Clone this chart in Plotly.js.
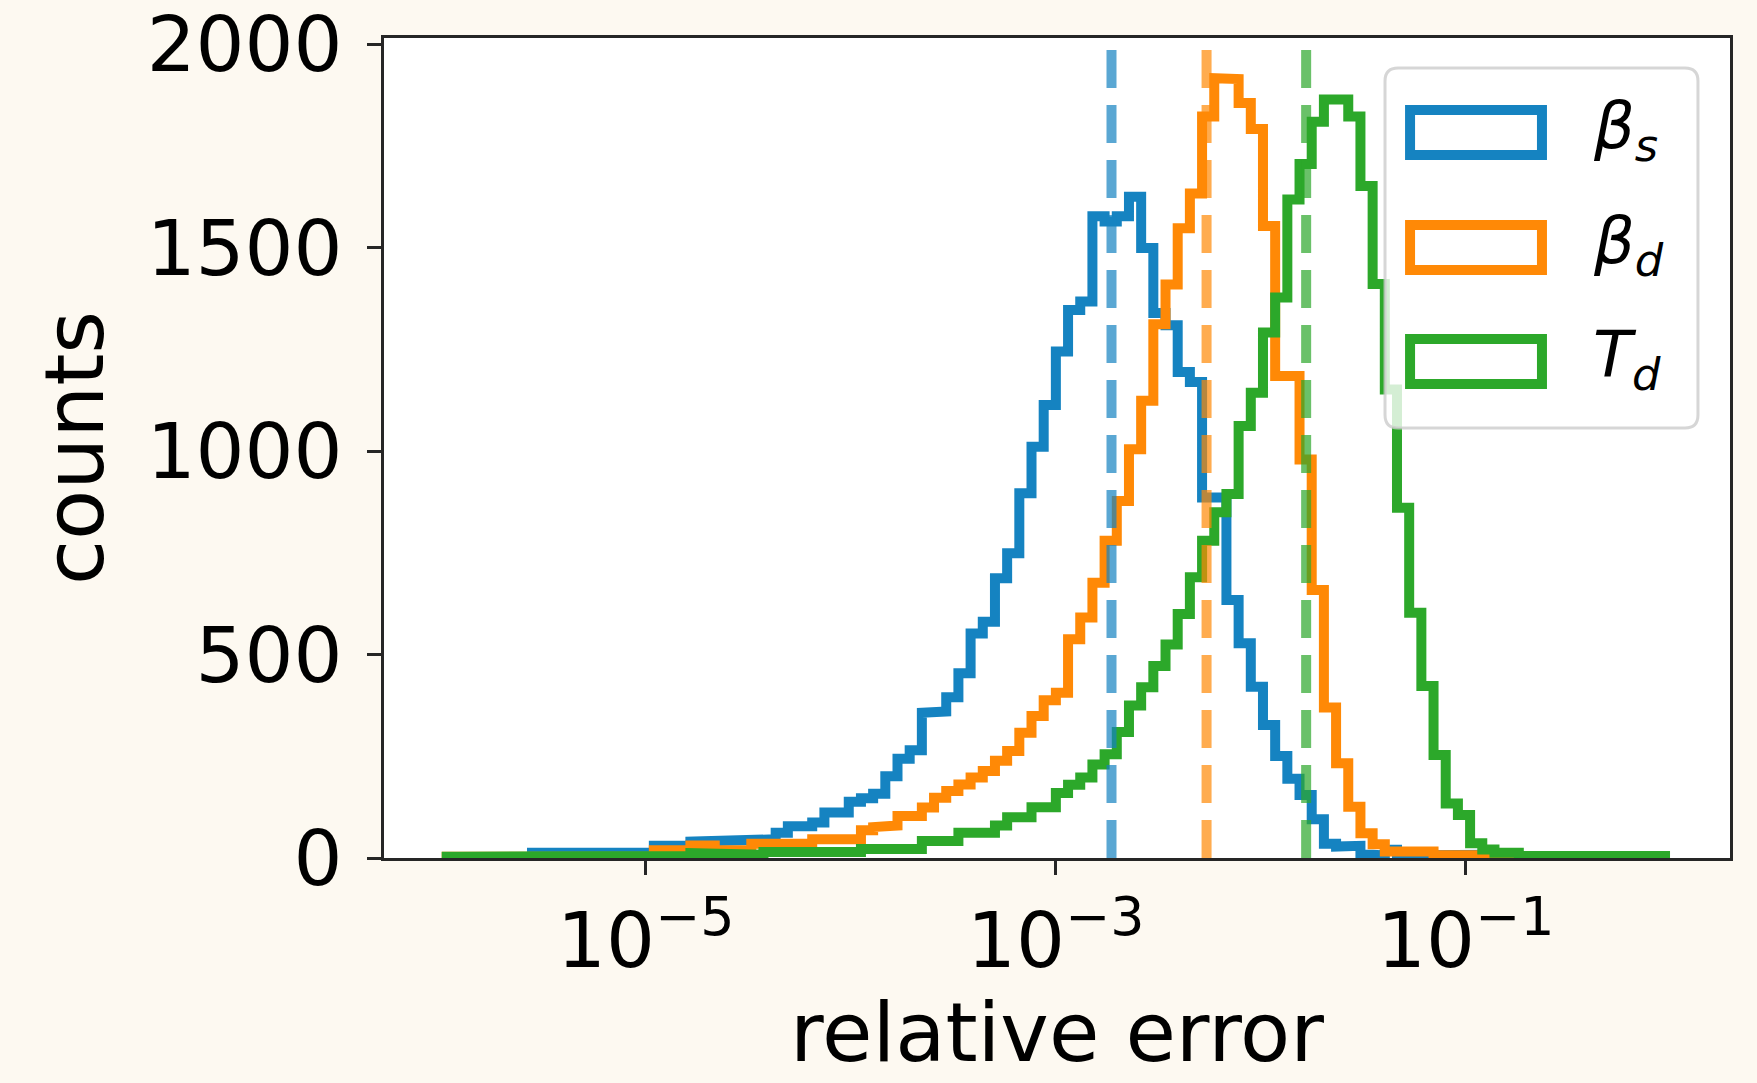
<!DOCTYPE html>
<html>
<head>
<meta charset="utf-8">
<script src="https://cdn.plot.ly/plotly-3.0.1.min.js"></script>
<style>
  html, body { margin: 0; padding: 0; background: #fdf9f1; }
  #chart { width: 1757px; height: 1083px; }
</style>
</head>
<body>
<div id="chart"></div>
<script>
// ---- data (histogram counts per log-spaced bin) ----
const seriesNames = ["β_s", "β_d", "T_d"];
const binLogMin = -5.971;   // log10 of first bin edge
const binLogMax = -0.028;   // log10 of last bin edge
const nBins = 100;

const countsBetaS = [
  0,0,0,0,0,0,0,
  13,13,13,13,13,13,13,13,13,13,
  30,30,30,
  40,40,40,40,
  46,46,46,
  62,
  78,78,
  87,
  112,112,
  138,147,158,201,244,265,357,360,395,454,552,581,688,749,897,1011,
  1114,1245,1347,1368,1578,1565,1578,1626,1500,1340,1310,1195,1170,886,886,
  634,528,421,327,251,195,155,95,35,28,30,10,6,20,6,
  3,3,3,3,3,
  8,
  0,0,0,0,0,0,0,0,0,0,0,0,0,0,0
];
const countsBetaD = [
  3,3,3,3,3,3,3,3,3,3,3,3,3,3,3,3,3,
  19,19,19,
  31,31,
  19,19,19,
  35,35,35,35,35,
  46,46,46,46,
  68,76,80,103,103,124,148,165,181,198,214,239,263,308,349,388,
  406,538,591,677,780,878,1005,1124,1312,1410,1548,1634,
  1823,1917,1915,1856,1792,1554,1185,1185,980,
  659,370,233,126,61,34,
  16,16,16,16,
  7,7,7,7,7,
  0,0,0,0,0,0,0,0,0,0,0,0,0,0
];
const countsTd = [
  3,3,3,3,3,3,3,3,3,3,3,3,3,3,3,3,
  5,5,5,5,
  12,12,
  8,8,8,8,
  15,15,15,15,15,15,15,15,
  22,22,22,22,22,
  42,42,42,
  62,62,62,
  80,100,100,125,125,160,180,198,230,255,310,375,420,472,525,600,690,780,850,895,
  1062,1144,1292,1378,1619,1706,
  1810,1865,1865,1823,1652,1411,
  1152,861,603,423,253,134,106,36,21,13,13,
  5,5,5,5,5,5,5,5,5,5,5,5
];
const medians = [1.87e-3, 5.44e-3, 1.665e-2];   // dashed vertical lines
const xTickVals = [1e-5, 1e-3, 1e-1];
const xTickText = ["10<sup>−5</sup>", "10<sup>−3</sup>", "10<sup>−1</sup>"];
const yTickVals = [0, 500, 1000, 1500, 2000];
const yTickText = ["0", "500", "1000", "1500", "2000"];
const legendLabels = ["<i>β</i><sub><i>s</i></sub>", "<i>β</i><sub><i>d</i></sub>", "<i>T</i><sub><i>d</i></sub>"];

// ---- style ----
const colors = ["#1583c1", "#ff8906", "#2ca82a"];
const FONT = "DejaVu Sans, Liberation Sans, sans-serif";
const axisColor = "#262626";

// bin edges (log-spaced, as in the original histogram)
const edges = [];
for (let i = 0; i <= nBins; i++) {
  edges.push(Math.pow(10, binLogMin + (binLogMax - binLogMin) * i / nBins));
}

function stepOutline(counts) {
  const xs = [edges[0]], ys = [0];
  for (let i = 0; i < counts.length; i++) {
    xs.push(edges[i], edges[i + 1]);
    ys.push(counts[i], counts[i]);
  }
  xs.push(edges[counts.length]);
  ys.push(0);
  return { xs, ys };
}

const allCounts = [countsBetaS, countsBetaD, countsTd];
const traces = allCounts.map((c, k) => {
  const p = stepOutline(c);
  return {
    type: "scatter", mode: "lines", x: p.xs, y: p.ys,
    name: seriesNames[k],
    line: { color: colors[k], width: 10, shape: "linear" },
    showlegend: false, hoverinfo: "skip"
  };
});

// ---- shapes: median lines + hand-built legend (hollow patches) ----
const shapes = [];
medians.forEach((m, k) => {
  shapes.push({
    type: "line", xref: "x", yref: "paper", x0: m, x1: m, y0: 0, y1: 1,
    line: { color: colors[k], width: 10, dash: "38px,17px" }, opacity: 0.7, layer: "above"
  });
});

// legend frame (rounded)
const lx0 = 0.7437, lx1 = 0.9762, ly0 = 0.5244, ly1 = 0.9634;
const rx = 13 / 1346, ry = 13 / 820;
const framePath =
  `M ${lx0 + rx},${ly0} L ${lx1 - rx},${ly0} Q ${lx1},${ly0} ${lx1},${ly0 + ry} ` +
  `L ${lx1},${ly1 - ry} Q ${lx1},${ly1} ${lx1 - rx},${ly1} ` +
  `L ${lx0 + rx},${ly1} Q ${lx0},${ly1} ${lx0},${ly1 - ry} ` +
  `L ${lx0},${ly0 + ry} Q ${lx0},${ly0} ${lx0 + rx},${ly0} Z`;
shapes.push({
  type: "path", xref: "paper", yref: "paper", path: framePath,
  fillcolor: "rgba(255,255,255,0.8)", line: { color: "rgba(204,204,204,0.8)", width: 3 }, layer: "above"
});
const patchY = [[0.8573, 0.9122], [0.7171, 0.7720], [0.5780, 0.6329]];
patchY.forEach((py, k) => {
  shapes.push({
    type: "rect", xref: "paper", yref: "paper", x0: 0.7623, x1: 0.8603, y0: py[0], y1: py[1],
    line: { color: colors[k], width: 10 }, fillcolor: "rgba(0,0,0,0)", layer: "above"
  });
});

const annotations = legendLabels.map((t, k) => ({
  xref: "paper", yref: "paper", x: 0.8965, y: (patchY[k][0] + patchY[k][1]) / 2,
  xanchor: "left", yanchor: "middle", text: t, showarrow: false, yshift: 2,
  font: { family: FONT, size: 64, color: "black" }
}));

const layout = {
  width: 1757, height: 1083,
  margin: { l: 384, r: 27, t: 38, b: 225, pad: 0 },
  paper_bgcolor: "#fdf9f1", plot_bgcolor: "#ffffff",
  font: { family: FONT, color: "black" },
  showlegend: false,
  xaxis: {
    type: "log", range: [-6.277, 0.289], autorange: false,
    showline: true, mirror: true, linecolor: axisColor, linewidth: 3,
    ticks: "outside", ticklen: 14, tickwidth: 3, tickcolor: axisColor,
    tickvals: xTickVals, ticktext: xTickText,
    tickfont: { family: FONT, size: 77, color: "black" },
    showgrid: false, zeroline: false,
    title: { text: "relative error", font: { family: FONT, size: 82, color: "black" }, standoff: 20 }
  },
  yaxis: {
    range: [0, 2016], autorange: false,
    showline: true, mirror: true, linecolor: axisColor, linewidth: 3,
    ticks: "outside", ticklen: 14, tickwidth: 3, tickcolor: axisColor,
    tickvals: yTickVals, ticktext: yTickText, ticklabelstandoff: 9,
    tickfont: { family: FONT, size: 77, color: "black" },
    showgrid: false, zeroline: false,
    title: { text: "counts", font: { family: FONT, size: 82, color: "black" }, standoff: 16 }
  },
  shapes: shapes,
  annotations: annotations
};

Plotly.newPlot("chart", traces, layout, { staticPlot: true, displayModeBar: false });
</script>
</body>
</html>
